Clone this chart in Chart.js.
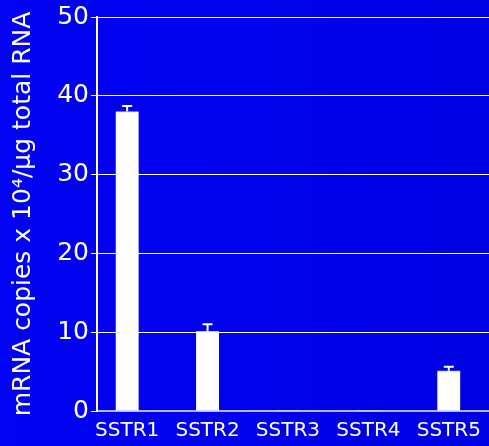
<!DOCTYPE html>
<html>
<head>
<meta charset="utf-8">
<script src="https://cdn.jsdelivr.net/npm/chart.js@4/dist/chart.umd.min.js"></script>
<style>
  html, body { margin: 0; padding: 0; background: #0000f0; }
  #wrap { width: 489px; height: 446px; position: relative; }
</style>
</head>
<body>
<div id="wrap"><canvas id="c" width="489" height="446"></canvas></div>
<script>
// Receptor subtypes and their mRNA levels (copies x 10^4 per µg total RNA)
const categories = ['SSTR1', 'SSTR2', 'SSTR3', 'SSTR4', 'SSTR5'];
const meanValues = [38.0, 10.1, 0, 0, 5.1];
const errorValues = [0.7, 0.9, 0, 0, 0.5];
const yTicks = [0, 10, 20, 30, 40, 50];
const yTitle = 'mRNA copies x 10\u2074/\u00b5g total RNA';

const FONT = "'DejaVu Sans', sans-serif";

// Blue backdrop over the whole canvas
const backdrop = {
  id: 'backdrop',
  beforeDraw(chart) {
    const { ctx, width, height } = chart;
    const g = ctx.createLinearGradient(0, 0, width, 0);
    g.addColorStop(0, '#0202f4');
    g.addColorStop(1, '#0000e4');
    ctx.save();
    ctx.fillStyle = g;
    ctx.fillRect(0, 0, width, height);
    ctx.restore();
  }
};

// Upper error whiskers above each bar
const whiskers = {
  id: 'whiskers',
  afterDatasetsDraw(chart) {
    const { ctx, scales } = chart;
    ctx.save();
    ctx.strokeStyle = '#ffffff';
    ctx.lineWidth = 2;
    meanValues.forEach((v, i) => {
      const e = errorValues[i];
      if (!e) return;
      const x = scales.x.getPixelForValue(i);
      const y0 = scales.y.getPixelForValue(v);
      const y1 = scales.y.getPixelForValue(v + e);
      ctx.beginPath();
      ctx.moveTo(x, y0);
      ctx.lineTo(x, y1);
      ctx.moveTo(x - 5, y1);
      ctx.lineTo(x + 5, y1);
      ctx.stroke();
    });
    ctx.restore();
  }
};

new Chart(document.getElementById('c'), {
  type: 'bar',
  data: {
    datasets: [{
      data: meanValues.map((v, i) => ({ x: i, y: v })),
      backgroundColor: '#ffffff',
      borderColor: '#c8c8ff',
      borderWidth: { top: 1, left: 0, right: 0, bottom: 0 },
      barThickness: 23
    }]
  },
  options: {
    responsive: false,
    animation: false,
    layout: { padding: { top: 15, right: 0, left: 0, bottom: 0 } },
    plugins: { legend: { display: false }, tooltip: { enabled: false } },
    scales: {
      x: {
        type: 'linear',
        offset: false,
        min: -0.375,
        max: 4.5,
        afterBuildTicks(scale) { scale.ticks = categories.map((_, i) => ({ value: i })); },
        afterFit(scale) { scale.height = 35; },
        grid: { display: false, drawTicks: false },
        border: { display: true, color: '#b4b4ff', width: 2 },
        ticks: {
          autoSkip: false,
          maxRotation: 0,
          padding: 8,
          color: '#ffffff',
          font: { family: FONT, size: 20 },
          callback: (v) => categories[v] ?? ''
        }
      },
      y: {
        min: 0,
        max: 50,
        afterBuildTicks(scale) { scale.ticks = yTicks.map(v => ({ value: v })); },
        afterFit(scale) { scale.width = 97; },
        grid: { color: '#ffffff', lineWidth: 1, tickLength: 6, drawTicks: true },
        border: { display: true, color: '#ffffff', width: 2 },
        ticks: {
          padding: 2,
          color: '#ffffff',
          font: { family: FONT, size: 25 }
        },
        title: {
          display: true,
          text: yTitle,
          color: '#ffffff',
          font: { family: FONT, size: 25 },
          padding: { top: 8, bottom: 0 }
        }
      }
    }
  },
  plugins: [backdrop, whiskers]
});
</script>
</body>
</html>
